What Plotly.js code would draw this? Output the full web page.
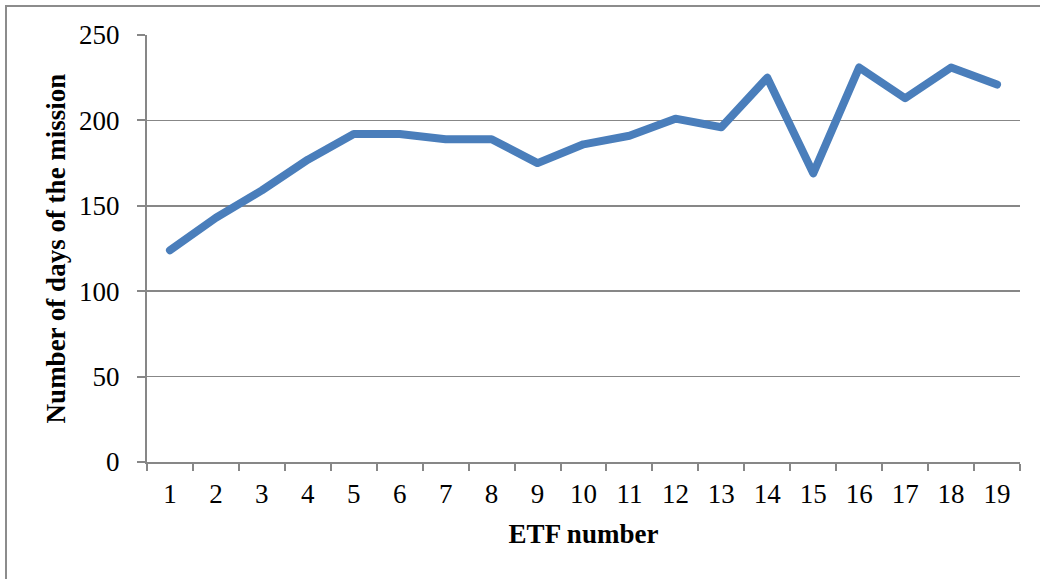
<!DOCTYPE html>
<html>
<head>
<meta charset="utf-8">
<script src="https://cdn.plot.ly/plotly-3.0.1.min.js"></script>
<style>
  html, body { margin: 0; padding: 0; background: #ffffff; overflow: hidden; }
  #frame { position: absolute; left: 5px; top: 5px; width: 1100px; height: 700px;
           border: 2px solid #8c8c8c; box-sizing: border-box; }
  #chart { position: absolute; left: 0; top: 0; width: 1040px; height: 579px; }
  #chart path.js-line { stroke-linecap: round !important; stroke-linejoin: round !important; }
</style>
</head>
<body>
<div id="frame"></div>
<div id="chart"></div>
<script>
// ETF mission data
const etfNumbers = [1, 2, 3, 4, 5, 6, 7, 8, 9, 10, 11, 12, 13, 14, 15, 16, 17, 18, 19];
const missionDays = [124, 143, 159, 177, 192, 192, 189, 189, 175, 186, 191, 201, 196, 225, 169, 231, 213, 231, 221];
const yTickValues = [0, 50, 100, 150, 200, 250];
const xTickLabels = etfNumbers.map(String);

const gridColor = '#878787';
const serif = '"Liberation Serif", "Times New Roman", serif';

const trace = {
  x: etfNumbers,
  y: missionDays,
  type: 'scatter',
  mode: 'lines',
  line: { color: '#4a7ebb', width: 8 },
  hoverinfo: 'skip'
};

const layout = {
  width: 1040,
  height: 579,
  margin: { l: 147, r: 20, t: 35, b: 117 },
  paper_bgcolor: 'rgba(0,0,0,0)',
  plot_bgcolor: 'rgba(0,0,0,0)',
  showlegend: false,
  font: { family: serif, color: '#000000' },
  xaxis: {
    range: [0.5, 19.5],
    tickmode: 'array',
    tickvals: etfNumbers,
    ticktext: xTickLabels,
    ticks: 'outside',
    ticklen: 7,
    tickcolor: 'rgba(0,0,0,0)',
    tickfont: { family: serif, size: 27, color: '#000000' },
    showgrid: false,
    zeroline: false,
    showline: true,
    linecolor: gridColor,
    linewidth: 2,
    minor: { tick0: 0.5, dtick: 1, ticks: 'outside', ticklen: 7, tickcolor: gridColor, tickwidth: 2, showgrid: false },
    title: { text: '<b>ETF number</b>', font: { family: serif, size: 27, color: '#000000' }, standoff: 16 },
    fixedrange: true
  },
  yaxis: {
    range: [0, 250],
    tickmode: 'array',
    tickvals: yTickValues,
    ticks: 'outside',
    ticklen: 8,
    tickwidth: 2,
    tickcolor: gridColor,
    tickfont: { family: serif, size: 27, color: '#000000' },
    ticklabelstandoff: 12,
    showgrid: true,
    gridcolor: gridColor,
    gridwidth: 1.6,
    zeroline: false,
    showline: true,
    linecolor: gridColor,
    linewidth: 2,
    title: { text: '<b>Number of days of the mission</b>', font: { family: serif, size: 27, color: '#000000' }, standoff: 6 },
    fixedrange: true
  }
};

Plotly.newPlot('chart', [trace], layout, { displayModeBar: false, staticPlot: true });
</script>
</body>
</html>
